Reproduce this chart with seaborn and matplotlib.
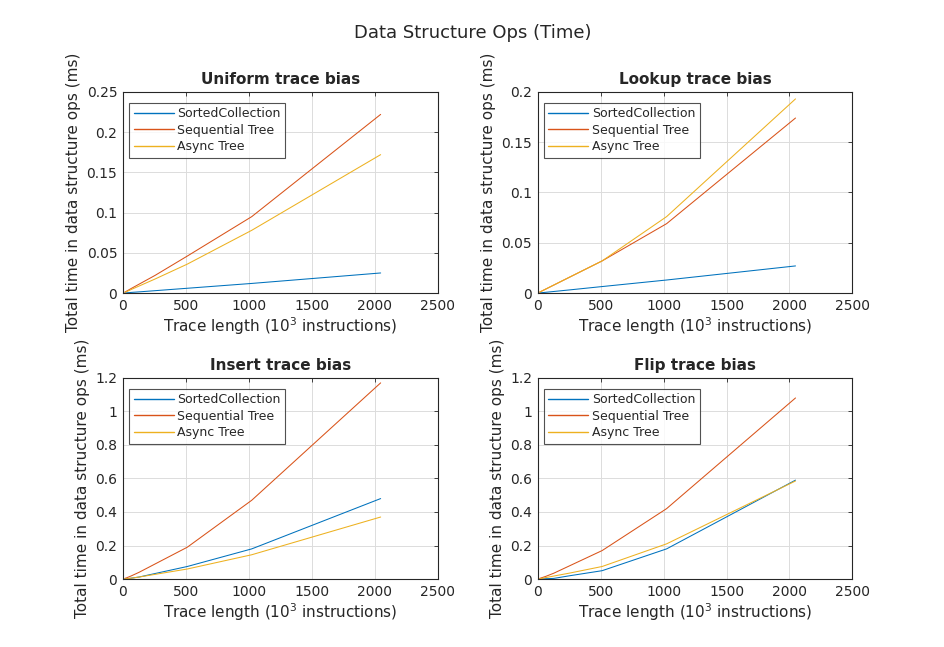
import matplotlib
matplotlib.use("Agg")
import matplotlib.pyplot as plt
import matplotlib.ticker as mticker
import seaborn as sns
import pandas as pd

trace_len = [16, 32, 64, 128, 256, 512, 1024, 2048]
series_names = ["SortedCollection", "Sequential Tree", "Async Tree"]
panel_titles = ["Uniform trace bias", "Lookup trace bias", "Insert trace bias", "Flip trace bias"]

uniform_sorted = [0.0002, 0.0004, 0.0008, 0.0015, 0.003, 0.006, 0.012, 0.025]
uniform_seq = [0.0013, 0.0026, 0.0055, 0.011, 0.022, 0.046, 0.095, 0.222]
uniform_async = [0.001, 0.002, 0.0043, 0.0087, 0.0175, 0.036, 0.078, 0.172]

lookup_sorted = [0.0002, 0.0004, 0.0008, 0.0016, 0.0032, 0.0065, 0.013, 0.027]
lookup_seq = [0.001, 0.002, 0.004, 0.008, 0.016, 0.032, 0.069, 0.174]
lookup_async = [0.001, 0.002, 0.004, 0.008, 0.016, 0.032, 0.076, 0.193]

insert_sorted = [0.001, 0.002, 0.005, 0.012, 0.033, 0.075, 0.18, 0.48]
insert_seq = [0.004, 0.008, 0.018, 0.04, 0.09, 0.19, 0.47, 1.17]
insert_async = [0.001, 0.002, 0.005, 0.012, 0.028, 0.06, 0.145, 0.37]

flip_sorted = [0.0005, 0.001, 0.002, 0.004, 0.02, 0.05, 0.18, 0.59]
flip_seq = [0.004, 0.008, 0.016, 0.035, 0.08, 0.17, 0.42, 1.08]
flip_async = [0.002, 0.004, 0.009, 0.018, 0.036, 0.075, 0.21, 0.585]

panel_data = [
    (uniform_sorted, uniform_seq, uniform_async),
    (lookup_sorted, lookup_seq, lookup_async),
    (insert_sorted, insert_seq, insert_async),
    (flip_sorted, flip_seq, flip_async),
]
y_limits = [(0, 0.25), (0, 0.2), (0, 1.2), (0, 1.2)]
y_steps = [0.05, 0.05, 0.2, 0.2]

colors = ["#0072BD", "#D95319", "#EDB120"]

sns.set_style("white")
plt.rcParams["font.family"] = ["DejaVu Sans"]

fig = plt.figure(figsize=(9.45, 6.47), dpi=100)
positions = [
    [0.130, 0.547, 0.333, 0.311],
    [0.569, 0.547, 0.333, 0.311],
    [0.130, 0.105, 0.333, 0.311],
    [0.569, 0.105, 0.333, 0.311],
]

for i in range(4):
    ax = fig.add_axes(positions[i])
    rows = []
    for name, vals in zip(series_names, panel_data[i]):
        for x, y in zip(trace_len, vals):
            rows.append({"x": x, "y": y, "series": name})
    df = pd.DataFrame(rows)
    sns.lineplot(data=df, x="x", y="y", hue="series", hue_order=series_names,
                 palette=colors, linewidth=0.75, ax=ax, estimator=None, sort=False)
    ax.set_xlim(0, 2500)
    ax.set_ylim(*y_limits[i])
    ax.xaxis.set_major_locator(mticker.MultipleLocator(500))
    ax.yaxis.set_major_locator(mticker.MultipleLocator(y_steps[i]))
    ax.yaxis.set_major_formatter(mticker.FuncFormatter(lambda v, p: f"{round(v, 4):g}"))
    ax.grid(True, color="#dcdcdc", linewidth=0.7)
    ax.set_axisbelow(True)
    for s in ax.spines.values():
        s.set_color("#262626")
        s.set_linewidth(0.8)
    ax.tick_params(direction="in", length=3, width=0.6, top=True, right=True,
                   labelsize=10, colors="#262626", pad=4)
    ax.set_xlabel("Trace length ($10^3$ instructions)", fontsize=11, color="#262626", labelpad=2)
    ax.set_ylabel("Total time in data structure ops (ms)", fontsize=11, color="#262626", labelpad=4)
    ax.set_title(panel_titles[i], fontsize=11, fontweight="bold", pad=6)
    leg = ax.legend(loc="upper left", bbox_to_anchor=(0.02, 0.945), fontsize=9,
                    frameon=True, fancybox=False, handlelength=3.2, borderpad=0.35,
                    labelspacing=0.28, handletextpad=0.3, borderaxespad=0.0)
    leg.get_frame().set_edgecolor("#262626")
    leg.get_frame().set_linewidth(0.8)
    for h in leg.get_lines():
        h.set_linewidth(1.0)

fig.suptitle("Data Structure Ops (Time)", fontsize=13, y=0.963)
fig.savefig("out.png", dpi=100)
